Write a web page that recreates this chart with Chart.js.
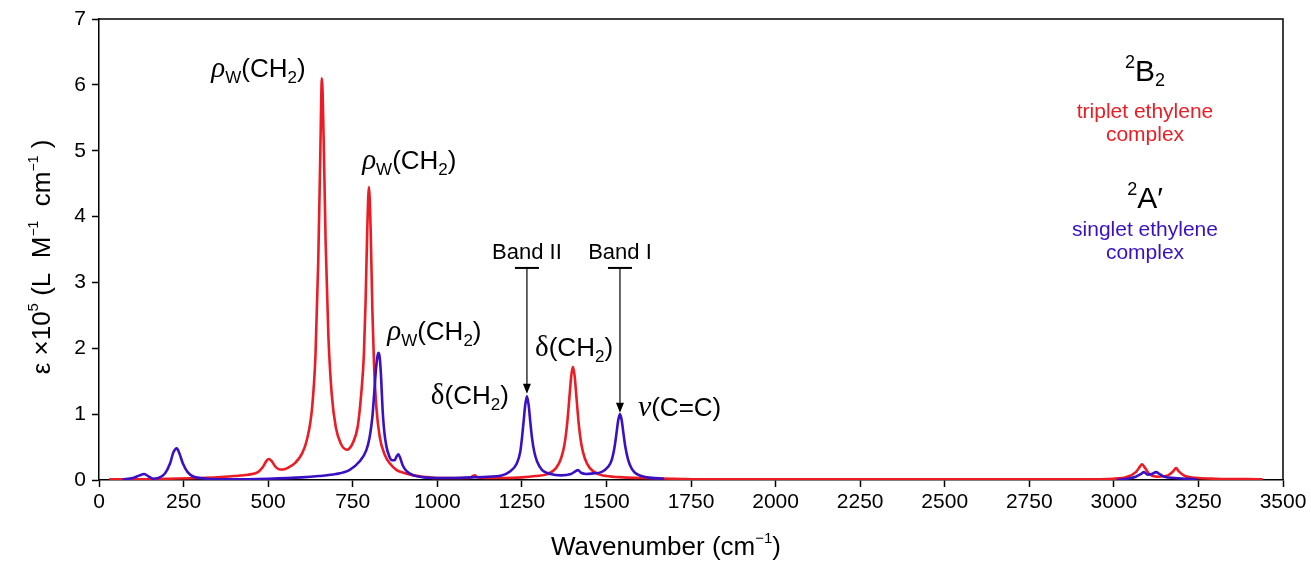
<!DOCTYPE html>
<html>
<head>
<meta charset="utf-8">
<script src="https://cdn.jsdelivr.net/npm/chart.js@4.4.1/dist/chart.umd.min.js"></script>
<style>
  body { margin: 0; background: #fff; }
  canvas { display: block; }
</style>
</head>
<body>
<canvas id="spec" width="1311" height="564"></canvas>
<script>
// 2B2 triplet ethylene complex (red)
const redX = [30, 100, 200, 300, 350, 400, 440, 470, 485, 495, 502, 510, 522, 535, 545, 560, 580, 600, 615, 630, 640, 648, 654, 659, 664, 670, 678, 688, 700, 715, 733, 750, 765, 775, 783, 788, 793, 798, 803, 808, 813, 820, 830, 845, 860, 880, 900, 930, 960, 1000, 1050, 1095, 1105, 1111, 1118, 1140, 1200, 1250, 1290, 1326, 1351, 1366, 1376, 1384, 1391, 1396, 1401, 1406, 1411, 1418, 1426, 1436, 1451, 1476, 1500, 1550, 1600, 1700, 1800, 2000, 2500, 2900, 3000, 3040, 3065, 3078, 3083, 3090, 3105, 3130, 3160, 3175, 3184, 3192, 3210, 3250, 3300, 3440];
const redY = [0.01, 0.01, 0.02, 0.03, 0.04, 0.06, 0.08, 0.12, 0.2, 0.29, 0.32, 0.29, 0.2, 0.16, 0.16, 0.19, 0.26, 0.4, 0.62, 1.1, 1.9, 3.3, 4.9, 6.1, 5.2, 3.6, 2.2, 1.3, 0.8, 0.55, 0.46, 0.56, 0.82, 1.3, 1.9, 2.7, 3.8, 4.45, 3.8, 2.6, 1.75, 1.1, 0.65, 0.38, 0.25, 0.15, 0.11, 0.07, 0.05, 0.03, 0.03, 0.03, 0.06, 0.07, 0.04, 0.03, 0.03, 0.04, 0.06, 0.09, 0.18, 0.33, 0.54, 0.86, 1.28, 1.58, 1.72, 1.58, 1.28, 0.86, 0.54, 0.33, 0.18, 0.09, 0.06, 0.04, 0.03, 0.02, 0.01, 0.01, 0.01, 0.01, 0.02, 0.05, 0.12, 0.21, 0.24, 0.2, 0.09, 0.05, 0.07, 0.13, 0.18, 0.13, 0.06, 0.03, 0.02, 0.01];

// 2A' singlet ethylene complex (blue), two computed ranges
const blueX1 = [70, 100, 120, 133, 145, 160, 175, 195, 210, 220, 230, 238, 248, 262, 280, 300, 350, 400, 500, 600, 650, 700, 740, 770, 790, 800, 808, 814, 819, 824, 827, 830, 834, 838, 843, 850, 858, 866, 874, 880, 885, 890, 898, 910, 930, 960, 1000, 1050, 1100, 1150, 1190, 1215, 1235, 1245, 1250, 1255, 1260, 1265, 1270, 1275, 1280, 1287, 1295, 1310, 1335, 1365, 1395, 1408, 1416, 1425, 1440, 1460, 1485, 1505, 1516, 1524, 1530, 1535, 1540, 1545, 1550, 1556, 1564, 1575, 1590, 1620, 1670];
const blueY1 = [0.01, 0.03, 0.07, 0.09, 0.06, 0.02, 0.03, 0.1, 0.25, 0.42, 0.48, 0.4, 0.25, 0.12, 0.05, 0.03, 0.01, 0.01, 0.02, 0.04, 0.06, 0.09, 0.15, 0.28, 0.45, 0.65, 0.95, 1.35, 1.7, 1.9, 1.93, 1.85, 1.55, 1.1, 0.75, 0.5, 0.36, 0.3, 0.3, 0.36, 0.39, 0.34, 0.22, 0.13, 0.07, 0.04, 0.03, 0.03, 0.04, 0.05, 0.07, 0.13, 0.25, 0.42, 0.62, 0.88, 1.14, 1.27, 1.14, 0.88, 0.64, 0.42, 0.28, 0.15, 0.09, 0.07, 0.09, 0.13, 0.15, 0.11, 0.09, 0.1, 0.12, 0.2, 0.31, 0.5, 0.72, 0.91, 1.0, 0.91, 0.72, 0.5, 0.31, 0.17, 0.09, 0.04, 0.02];
const blueX2 = [3009, 3040, 3065, 3080, 3089, 3100, 3112, 3125, 3135, 3150, 3180, 3210, 3245];
const blueY2 = [0.0, 0.02, 0.05, 0.09, 0.12, 0.08, 0.09, 0.12, 0.09, 0.05, 0.03, 0.02, 0.01];

const xTicks = [0, 250, 500, 750, 1000, 1250, 1500, 1750, 2000, 2250, 2500, 2750, 3000, 3250, 3500];
const yTicks = [0, 1, 2, 3, 4, 5, 6, 7];

const RED = '#ec1c24';
const BLUE = '#3a10c4';
const SANS = '"Liberation Sans", Arial, sans-serif';
const SERIF = '"Liberation Serif", "Times New Roman", serif';

const pts = (xs, ys) => xs.map((x, i) => ({ x: x, y: ys[i] }));

// rich text: list of pieces, each with its own font and vertical shift
function rich(ctx, x, y, parts, align) {
    let w = 0;
    parts.forEach(p => { ctx.font = p.f; w += ctx.measureText(p.t).width; });
    let cx = align === 'center' ? x - w / 2 : x;
    parts.forEach(p => {
        ctx.font = p.f;
        ctx.fillStyle = p.c || '#000';
        ctx.fillText(p.t, cx, y + (p.dy || 0));
        cx += ctx.measureText(p.t).width;
    });
}

const big = '26px ' + SANS, sub = '17px ' + SANS;
const ch2 = [{ t: '(CH', f: big }, { t: '2', f: sub, dy: 6 }, { t: ')', f: big }];
const rhoW = [{ t: 'ρ', f: 'italic 29px ' + SERIF }, { t: 'W', f: sub, dy: 6 }].concat(ch2);
const delta = [{ t: 'δ', f: '29px ' + SERIF }].concat(ch2);
const nuCC = [{ t: 'ν', f: 'italic 30px ' + SERIF }, { t: '(C=C)', f: big }];

// label anchors in data units (left edge, baseline)
const labels = [
    { x: 332, y: 6.12, parts: rhoW },
    { x: 778, y: 4.72, parts: rhoW },
    { x: 852, y: 2.12, parts: rhoW },
    { x: 981, y: 1.15, parts: delta },
    { x: 1289, y: 1.88, parts: delta },
    { x: 1593, y: 0.97, parts: nuCC }
];
const bands = [
    { name: 'Band II', x: 1265, top: 3.22, tip: 1.31 },
    { name: 'Band I', x: 1540, top: 3.22, tip: 1.02 }
];

const decor = {
    id: 'decor',
    afterDraw(chart) {
        const ctx = chart.ctx, a = chart.chartArea;
        const sx = chart.scales.x, sy = chart.scales.y;
        ctx.save();
        // frame top + right
        ctx.strokeStyle = '#000';
        ctx.lineWidth = 1.5;
        ctx.beginPath();
        ctx.moveTo(a.left, a.top);
        ctx.lineTo(a.right, a.top);
        ctx.lineTo(a.right, a.bottom);
        ctx.stroke();

        ctx.textBaseline = 'alphabetic';
        labels.forEach(l => rich(ctx, sx.getPixelForValue(l.x), sy.getPixelForValue(l.y), l.parts, 'left'));

        // band markers
        bands.forEach(b => {
            const px = sx.getPixelForValue(b.x);
            const top = sy.getPixelForValue(b.top);
            const tip = sy.getPixelForValue(b.tip);
            rich(ctx, px, top - 9, [{ t: b.name, f: '22px ' + SANS }], 'center');
            ctx.lineWidth = 2;
            ctx.beginPath();
            ctx.moveTo(px - 12, top); ctx.lineTo(px + 12, top);
            ctx.stroke();
            ctx.lineWidth = 1.2;
            ctx.beginPath();
            ctx.moveTo(px, top); ctx.lineTo(px, tip - 8);
            ctx.stroke();
            ctx.fillStyle = '#000';
            ctx.beginPath();
            ctx.moveTo(px - 4, tip - 10); ctx.lineTo(px + 4, tip - 10); ctx.lineTo(px, tip);
            ctx.closePath(); ctx.fill();
        });

        // state legends on the right
        const cx = 1145;
        rich(ctx, cx, 81, [{ t: '2', f: '18px ' + SANS, dy: -13 }, { t: 'B', f: '30px ' + SANS }, { t: '2', f: '18px ' + SANS, dy: 5 }], 'center');
        rich(ctx, cx, 118, [{ t: 'triplet ethylene', f: '21px ' + SANS, c: RED }], 'center');
        rich(ctx, cx, 141, [{ t: 'complex', f: '21px ' + SANS, c: RED }], 'center');
        rich(ctx, cx, 208, [{ t: '2', f: '18px ' + SANS, dy: -13 }, { t: 'A′', f: '30px ' + SANS }], 'center');
        rich(ctx, cx, 236, [{ t: 'singlet ethylene', f: '21px ' + SANS, c: BLUE }], 'center');
        rich(ctx, cx, 259, [{ t: 'complex', f: '21px ' + SANS, c: BLUE }], 'center');

        // axis titles
        rich(ctx, 666, 555, [{ t: 'Wavenumber (cm', f: '26px ' + SANS }, { t: '−1', f: '15px ' + SANS, dy: -12 }, { t: ')', f: '26px ' + SANS }], 'center');
        ctx.translate(50, 257);
        ctx.rotate(-Math.PI / 2);
        rich(ctx, 0, 0, [
            { t: 'ε ×10', f: '26px ' + SANS },
            { t: '5', f: '15px ' + SANS, dy: -12 },
            { t: ' (L  M', f: '26px ' + SANS },
            { t: '−1', f: '14px ' + SANS, dy: -12 },
            { t: '  cm', f: '26px ' + SANS },
            { t: '−1', f: '14px ' + SANS, dy: -12 },
            { t: ' )', f: '26px ' + SANS }
        ], 'center');
        ctx.restore();
    }
};

const axisGrid = { drawOnChartArea: false, drawTicks: true, tickLength: 7, tickColor: '#000', tickWidth: 1.5 };
const tickFont = { size: 21, family: SANS };

new Chart(document.getElementById('spec'), {
    type: 'line',
    data: {
        datasets: [
            { data: pts(blueX1, blueY1), borderColor: BLUE },
            { data: pts(blueX2, blueY2), borderColor: BLUE },
            { data: pts(redX, redY), borderColor: RED }
        ].map(d => Object.assign(d, { borderWidth: 2.6, pointRadius: 0, fill: false, cubicInterpolationMode: 'monotone' }))
    },
    options: {
        responsive: false,
        animation: false,
        events: [],
        layout: { padding: { top: 19, right: 28, left: 0, bottom: 0 } },
        plugins: { legend: { display: false }, tooltip: { enabled: false } },
        scales: {
            x: {
                type: 'linear', min: 0, max: 3500,
                afterBuildTicks: s => { s.ticks = xTicks.map(v => ({ value: v })); },
                afterFit: s => { s.height = 84; },
                ticks: { color: '#000', font: tickFont, padding: 3, maxRotation: 0, autoSkip: false, callback: v => String(v) },
                grid: axisGrid,
                border: { color: '#000', width: 1.5 }
            },
            y: {
                min: 0, max: 7,
                afterBuildTicks: s => { s.ticks = yTicks.map(v => ({ value: v })); },
                afterFit: s => { s.width = 99; },
                ticks: { color: '#000', font: tickFont, padding: 6, callback: v => String(v) },
                grid: axisGrid,
                border: { color: '#000', width: 1.5 }
            }
        }
    },
    plugins: [decor]
});
</script>
</body>
</html>
